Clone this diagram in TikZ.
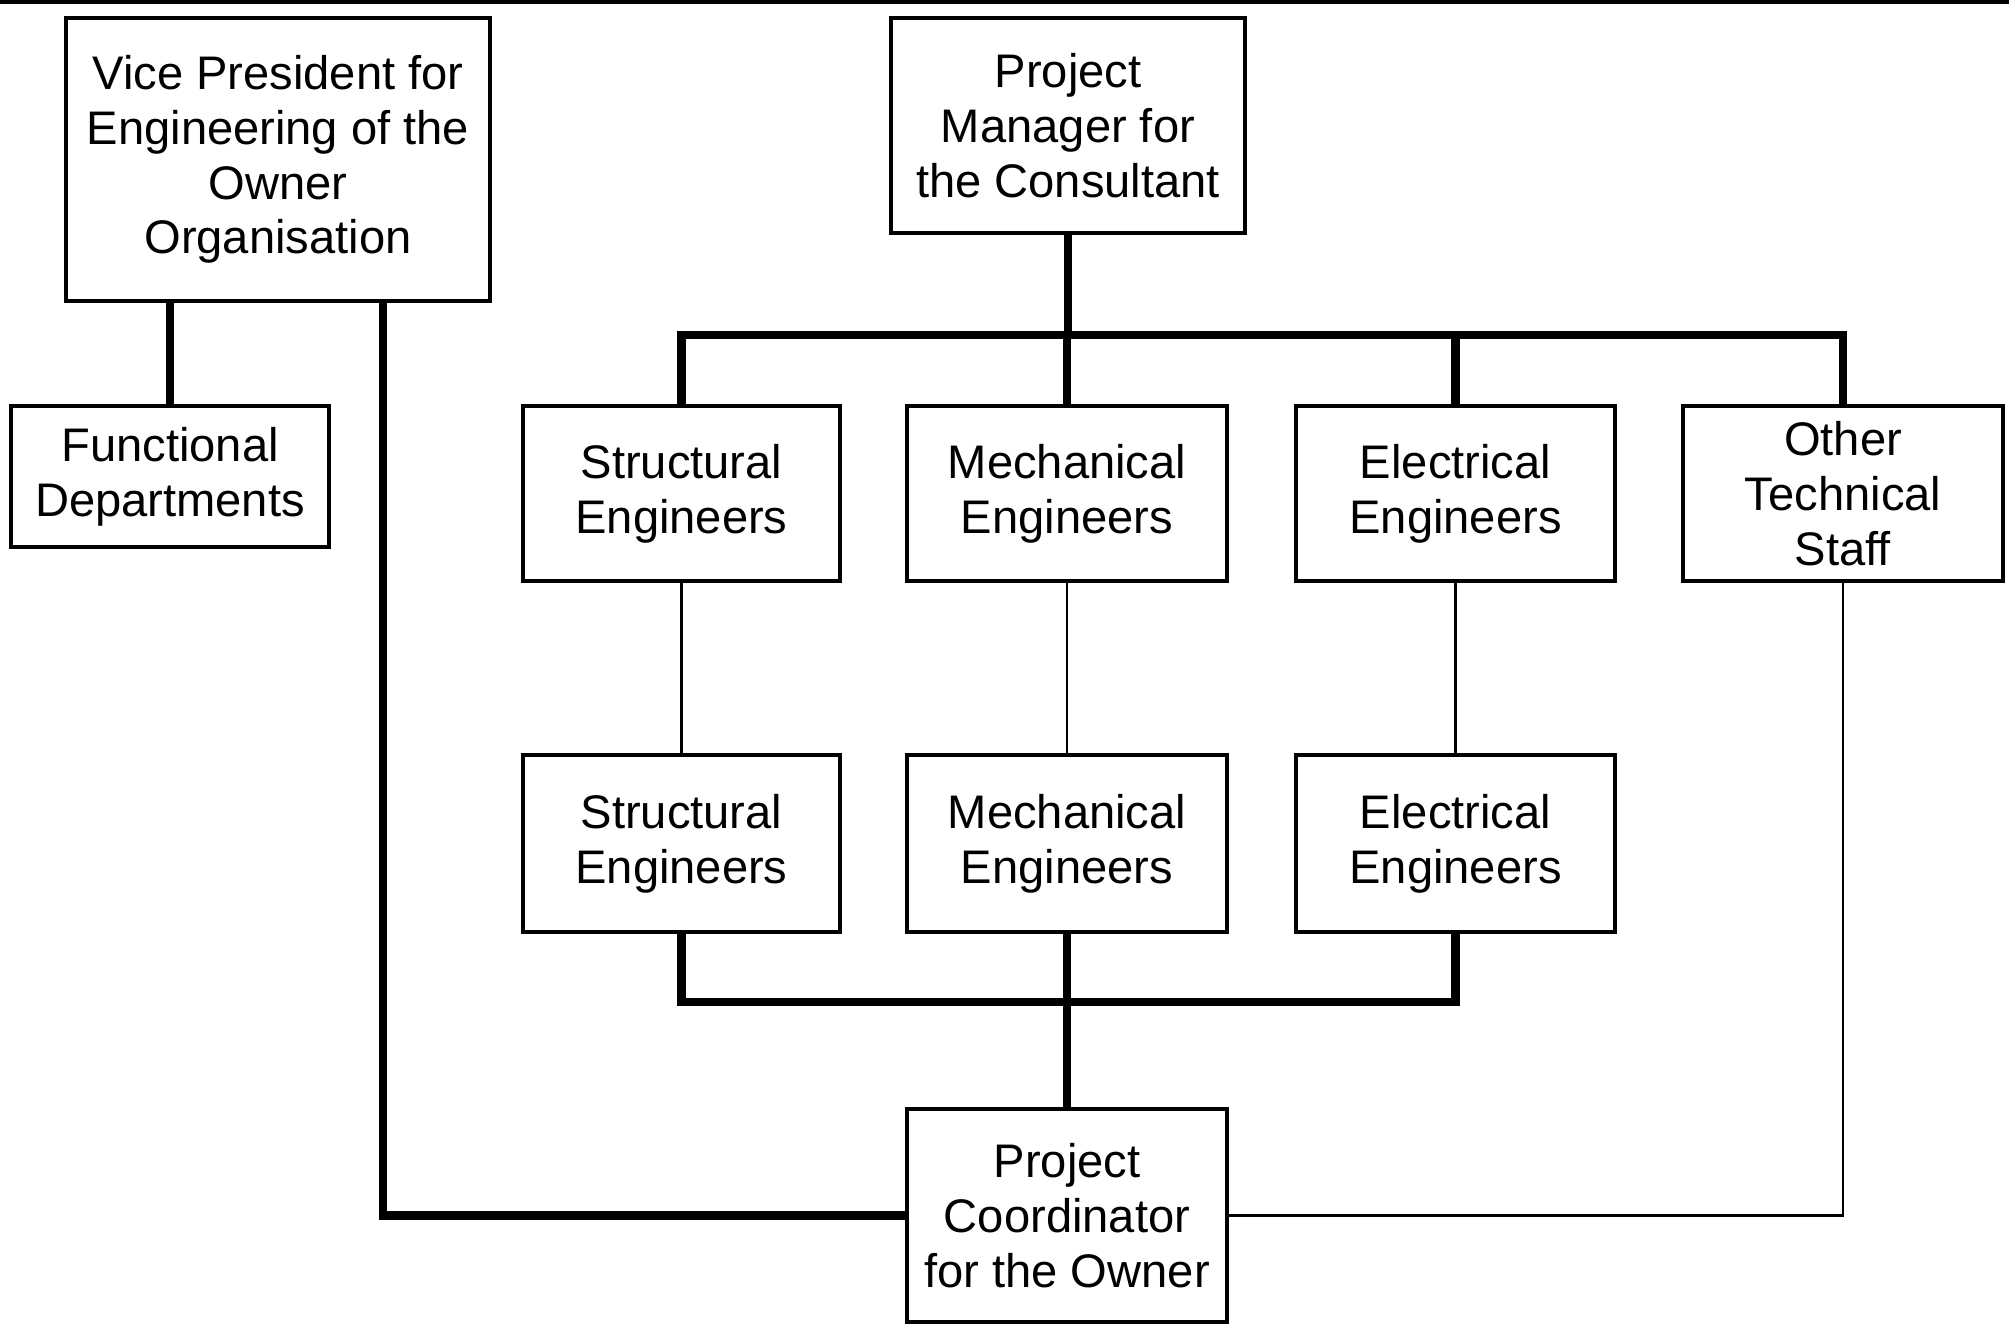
\documentclass[tikz,border=0pt]{standalone}
\usepackage{fontspec}
\setmainfont{Liberation Sans}
\begin{document}
\begin{tikzpicture}[x=0.01cm,y=-0.01cm,
  box/.style={draw=black, line width=0.85pt, fill=white, align=center, inner sep=0pt,
    font=\fontsize{13.4}{15.6}\selectfont},
  thickline/.style={line width=2.3pt, line join=miter},
  thin/.style={line width=0.7pt}]
\useasboundingbox (0,0) rectangle (2009,1323);
\fill[black] (0,0) rectangle (2009,4);
% nodes
\node[box, minimum width=4.22cm, minimum height=2.81cm] (VP) at (278,159.5) {Vice President for\\Engineering of the\\Owner\\Organisation};
\node[box, minimum width=3.16cm, minimum height=1.39cm] (FD) at (170,476.5) {Functional\\Departments};
\node[box, minimum width=3.52cm, minimum height=2.13cm] (PM) at (1068,125.5) {Project\\Manager for\\the Consultant};
\node[box, minimum width=3.15cm, minimum height=1.73cm] (S1) at (681.5,493.5) {Structural\\Engineers};
\node[box, minimum width=3.18cm, minimum height=1.73cm] (M1) at (1067,493.5) {Mechanical\\Engineers};
\node[box, minimum width=3.17cm, minimum height=1.73cm] (E1) at (1455.5,493.5) {Electrical\\Engineers};
\node[box, minimum width=3.18cm, minimum height=1.73cm] (O1) at (1843,493.5) {Other\\Technical\\Staff};
\node[box, minimum width=3.15cm, minimum height=1.75cm] (S2) at (681.5,843.5) {Structural\\Engineers};
\node[box, minimum width=3.18cm, minimum height=1.75cm] (M2) at (1067,843.5) {Mechanical\\Engineers};
\node[box, minimum width=3.17cm, minimum height=1.75cm] (E2) at (1455.5,843.5) {Electrical\\Engineers};
\node[box, minimum width=3.18cm, minimum height=2.11cm] (PC) at (1067,1215.5) {Project\\Coordinator\\for the Owner};
\coordinate (bt) at (0,335);
\coordinate (bb) at (0,1002);
\coordinate (vx) at (383,0);
% thick connectors
\draw[thickline] (FD.north) -- (FD.north |- VP.south);
\draw[thickline] (VP.south -| vx) -- (vx |- PC.west) -- (PC.west);
\draw[thickline] (PM.south) -- (PM.south |- bt);
\draw[thickline] (S1.north) -- (S1.north |- bt) -- (O1.north |- bt) -- (O1.north);
\draw[thickline] (M1.north) -- (M1.north |- bt);
\draw[thickline] (E1.north) -- (E1.north |- bt);
\draw[thickline] (S2.south) -- (S2.south |- bb) -- (E2.south |- bb) -- (E2.south);
\draw[thickline] (M2.south) -- (PC.north);
% thin connectors
\draw[thin] (S1.south) -- (S2.north);
\draw[thin] (M1.south) -- (M2.north);
\draw[thin] (E1.south) -- (E2.north);
\draw[thin] (O1.south) |- (PC.east);
% redraw box outlines over line ends
\foreach \n in {VP,FD,PM,S1,M1,E1,O1,S2,M2,E2,PC}{\draw[line width=0.85pt] (\n.north west) rectangle (\n.south east);}
\end{tikzpicture}
\end{document}
